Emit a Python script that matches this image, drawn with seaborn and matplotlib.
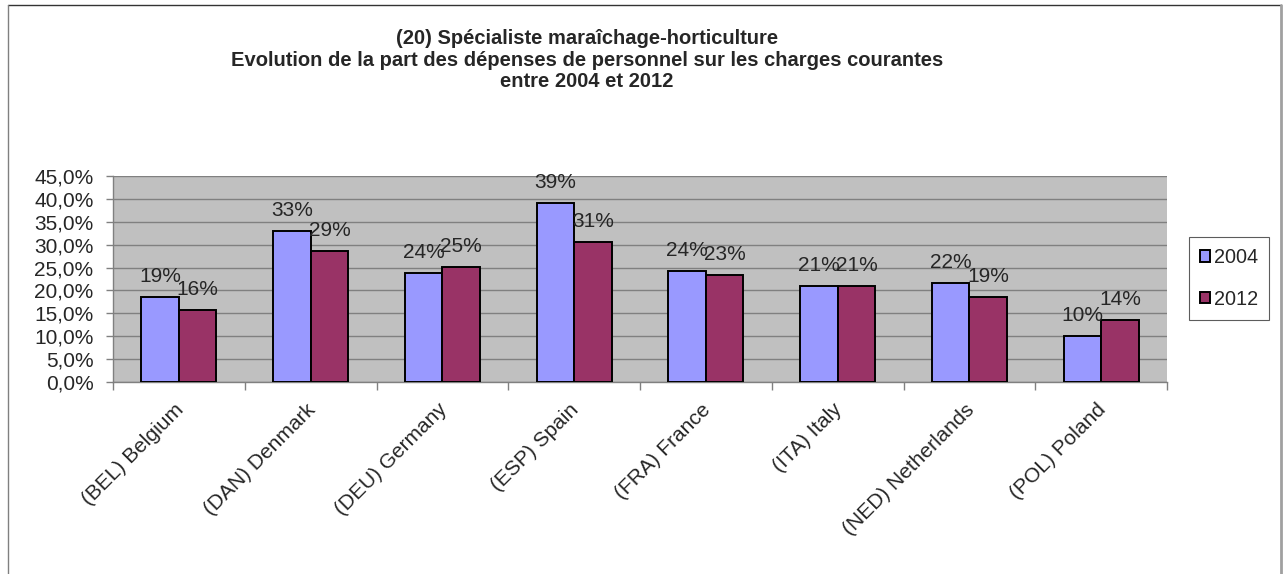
import numpy as np
import matplotlib
matplotlib.use("Agg")
import matplotlib.pyplot as plt
import matplotlib.transforms as mtransforms
from matplotlib.patches import Patch
from matplotlib.lines import Line2D
import seaborn as sns
import pandas as pd

# Données
pays = ['(BEL) Belgium', '(DAN) Denmark', '(DEU) Germany', '(ESP) Spain',
        '(FRA) France', '(ITA) Italy', '(NED) Netherlands', '(POL) Poland']
annees = ['2004', '2012']
part_2004 = [18.6, 33.0, 23.8, 39.0, 24.3, 21.0, 21.6, 10.1]
part_2012 = [15.8, 28.6, 25.2, 30.6, 23.4, 21.0, 18.6, 13.6]
y_ticks = [0, 5, 10, 15, 20, 25, 30, 35, 40, 45]
y_tick_labels = ['0,0%', '5,0%', '10,0%', '15,0%', '20,0%', '25,0%',
                 '30,0%', '35,0%', '40,0%', '45,0%']
couleurs = ['#9999FF', '#993366']

titre = ("(20) Spécialiste maraîchage-horticulture\n"
         "Evolution de la part des dépenses de personnel sur les charges courantes\n"
         "entre 2004 et 2012")

df = pd.DataFrame({
    'Pays': pays * 2,
    'Annee': [annees[0]] * len(pays) + [annees[1]] * len(pays),
    'Part': part_2004 + part_2012,
})

sns.set_theme(style="white")
plt.rcParams['font.family'] = ['Liberation Sans', 'DejaVu Sans']

fig = plt.figure(figsize=(12.87, 5.74), dpi=100)
ax = fig.add_axes([113 / 1287, 1 - 382 / 574, (1167 - 113) / 1287, (382 - 176) / 574])
ax.set_facecolor('#C0C0C0')

sns.barplot(data=df, x='Pays', y='Part', hue='Annee', palette=couleurs,
            width=0.571, edgecolor='black', linewidth=1.4, saturation=1,
            legend=False, ax=ax, zorder=3)

# Etiquettes de données
for cont in ax.containers:
    ax.bar_label(cont, labels=[f"{v:.0f}%" for v in cont.datavalues],
                 padding=8, fontsize=15)

ax.set_ylim(0, 45)
ax.set_xlim(-0.5, len(pays) - 0.5)
ax.set_yticks(y_ticks)
ax.set_yticklabels(y_tick_labels, fontsize=15)
ax.yaxis.grid(True, color='#808080', linewidth=1, zorder=0)
ax.set_axisbelow(True)

# Ticks aux limites des catégories, libellés au centre
ax.set_xticks(np.arange(len(pays)))
ax.set_xticklabels(pays, rotation=45, ha='right', rotation_mode='anchor', fontsize=15)
ax.tick_params(axis='x', length=0, pad=13)
decalage = mtransforms.ScaledTranslation(-5 / 100, 0, fig.dpi_scale_trans)
for lab in ax.get_xticklabels():
    lab.set_transform(lab.get_transform() + decalage)
ax.set_xticks(np.arange(len(pays) + 1) - 0.5, minor=True)
ax.tick_params(axis='x', which='minor', length=6, color='#808080', width=1,
               bottom=True, direction='out')
ax.tick_params(axis='y', length=5, color='#808080', width=1, left=True,
               direction='out', pad=9)
ax.set_xlabel('')
ax.set_ylabel('')

for side in ['left', 'bottom']:
    ax.spines[side].set_color('#808080')
    ax.spines[side].set_linewidth(1)
for side in ['top', 'right']:
    ax.spines[side].set_visible(False)

# Légende
handles = [Patch(facecolor=c, edgecolor='black', linewidth=1.4, label=a)
           for a, c in zip(annees, couleurs)]
leg = fig.legend(handles=handles, loc='upper left',
                 bbox_to_anchor=(1189 / 1287, 1 - 237 / 574),
                 fontsize=14.3, frameon=True, fancybox=False,
                 handlelength=0.5, handleheight=0.5, handletextpad=0.2,
                 labelspacing=1.15, borderpad=0.55, borderaxespad=0)
leg.get_frame().set_edgecolor('#333333')
leg.get_frame().set_linewidth(0.8)

# Titre
fig.text(587 / 1287, 1 - 60 / 574, titre, ha='center', va='center',
         fontsize=14.5, fontweight='bold', linespacing=1.17)

# Cadre du graphique
fig.add_artist(Line2D([8 / 1287, 1281 / 1287], [1 - 5 / 574, 1 - 5 / 574],
                      transform=fig.transFigure, color='#333333', linewidth=1))
fig.add_artist(Line2D([8 / 1287, 8 / 1287], [0, 1 - 5 / 574],
                      transform=fig.transFigure, color='#808080', linewidth=1))
fig.add_artist(Line2D([1281 / 1287, 1281 / 1287], [0, 1 - 5 / 574],
                      transform=fig.transFigure, color='#A0A0A0', linewidth=2))

fig.savefig('out.png', dpi=100)
